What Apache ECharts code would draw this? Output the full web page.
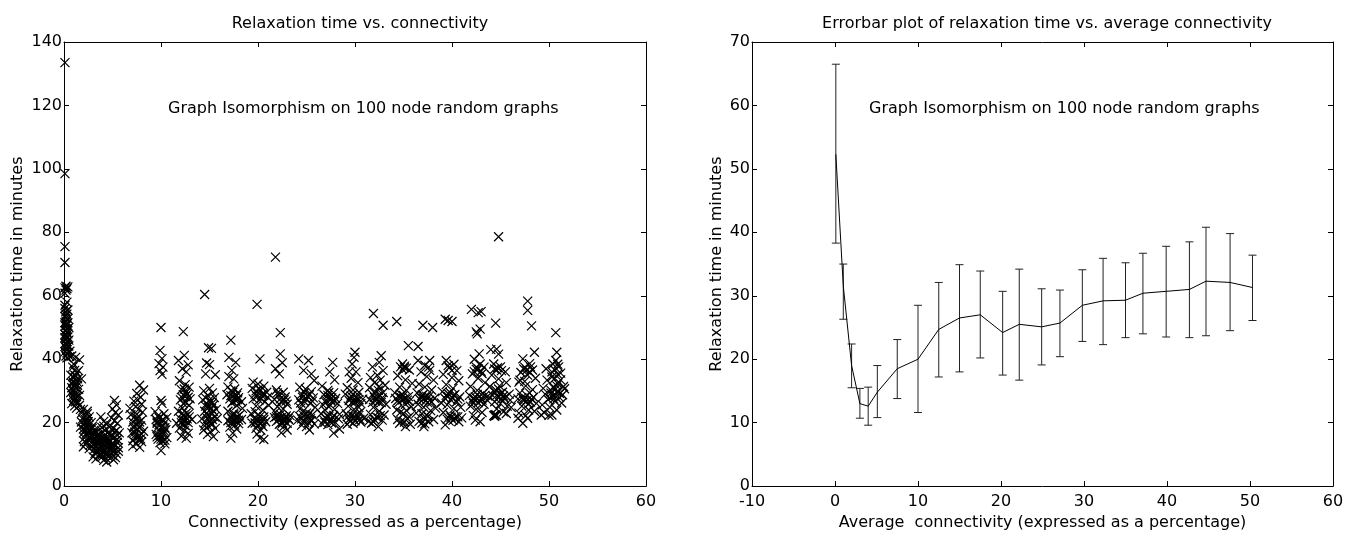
<!DOCTYPE html>
<html>
<head>
<meta charset="utf-8">
<script src="https://cdn.jsdelivr.net/npm/echarts@6/dist/echarts.min.js"></script>
<style>
html,body{margin:0;padding:0;background:#fff;}
#chart{width:1348px;height:536px;}
</style>
</head>
<body>
<div id="chart"></div>
<script>
// ---------- Left panel: scatter (connectivity %, relaxation minutes) ----------
const c0 = [[0.1,133.5],[0.1,98.5],[0.1,75.5],[0.1,70.5],[0.1,62.5],[0.2,61.8],[0.3,62.2],[0.1,60.8],[0.4,62.8],[0.2,63],
[0.1,56],[0.2,55],[0.3,54.2],[0.1,53.5],[0.4,52.8],[0.2,52],[0.3,51.2],[0.1,50.5],[0.5,50],[0.2,49.2],[0.3,48.5],[0.1,47.8],[0.4,47],[0.2,46.3],[0.3,45.5],[0.1,45],[0.5,44.2],[0.2,43.6],[0.3,43],[0.1,42.3],[0.4,41.7],[0.2,41],[0.3,40.4],[0.6,42.5],[0.5,46],[0.6,40.8],[0.1,51.5],[0.3,49.5],[0.2,44.5],[0.4,55.5],[0.1,57],[0.3,58],
[0.2,53],[0.3,50.8],[0.1,49],[0.4,48],[0.2,47.5],[0.1,46.8],[0.3,46.8],[0.2,45],[0.4,44],[0.1,44],[0.3,42],[0.2,54],[0.4,51.5],[0.2,50.5]];
const c1 = [[0.8,41],[1.2,40.6],[1.6,39.8],[0.9,37.5],[1.1,36.5],[1.3,35.8],[0.7,35],[1.0,34.2],[1.4,33.8],[1.8,33.8],[0.9,33],[1.2,32.2],[1.1,31.5],[0.8,31],[1.5,30.5],[1.0,29.8],[1.3,29],[0.9,28.5],[1.6,28.6],[1.2,27.8],[1.0,27],[1.4,26.5],[0.8,26],[1.1,25.3],[1.3,24.6],[1.7,24.2],[1.0,38.5],[1.4,31.8],[0.7,29.5],[1.2,34.8],
[1.1,35],[0.9,34.5],[1.3,33],[1.0,32.6],[1.2,31],[0.9,30.2],[1.1,29.3],[1.3,28.2],[1.0,28],[1.2,26.6],[0.8,32.4],[1.5,36.4]];
const c2 = [[1.6,25.5],[2.0,24.2],[2.4,23.6],[1.8,23],[2.2,22.3],[2.6,21.8],[1.9,21.2],[2.3,20.6],[2.8,20],[2.1,19.5],[2.5,19],[1.7,18.6],[2.9,18.2],[2.2,17.7],[2.6,17.2],[2.0,16.8],[2.4,16.2],[2.8,15.7],[2.1,15.2],[2.5,14.7],[2.9,14.2],[2.3,13.6],[2.7,13],[2.0,12.4],[2.6,11.8],[3.0,16.5],[2.4,22.8],[1.8,20.2],
[2.2,21],[2.5,20.3],[2.0,18],[2.4,18.2],[2.7,17.9],[2.3,16.6],[2.1,14],[2.6,15.5],[2.4,19.7],[2.8,14.9]];
const c3 = [[2.9,18.8],[3.1,17.6],[3.3,16.9],[3.5,16.2],[3.0,15.6],[3.2,15],[3.4,14.3],[3.6,13.8],[3.0,13.2],[3.3,12.6],[3.5,12],[3.1,11.5],[3.4,10.9],[3.2,10.3],[3.6,9.8],[3.0,9.2],[3.3,8.6],[3.5,14.9],[3.1,12.9],[3.4,11.1],[3.2,17.4],[3.6,11.8]];
const c4 = [[3.8,21.8],[4.1,20.4],[4.4,19.5],[3.9,18.5],[4.2,17.6],[4.5,16.8],[3.7,16],[4.0,15.4],[4.3,14.8],[4.6,14.2],[3.8,13.6],[4.1,13],[4.4,12.4],[3.9,11.8],[4.2,11.2],[4.5,10.6],[3.7,10],[4.0,9.4],[4.3,8.8],[4.1,8.1],[4.4,7.6],[3.9,9.8],[4.6,11.4],[4.2,15.9],[3.8,12.7],[4.0,17.1],[4.3,10.2],[4.5,13.3],[4.1,18.9],[3.7,14.6],
[3.5,13.4],[3.8,15],[4.2,14],[4.5,12],[3.6,11.4],[4.0,10.8],[4.4,9.8],[4.7,16.5],[5.0,12],[5.3,14.3],[3.4,16],[4.6,9.2],[5.5,16],[3.3,13.9],[3.9,16.7],[4.8,13]];
const c5 = [[5.2,27],[5.4,25.6],[5.0,24.3],[5.3,23.2],[5.6,22.4],[4.9,21.5],[5.2,20.6],[5.5,19.8],[4.8,19],[5.1,18.2],[5.4,17.5],[5.7,16.8],[4.9,16.1],[5.2,15.4],[5.5,14.7],[4.7,14],[5.0,13.4],[5.3,12.8],[5.6,12.1],[4.8,11.5],[5.1,10.9],[5.4,10.2],[5.0,9.6],[5.3,9],[5.1,8.3],[5.5,13.8],[4.9,12.4],[5.2,17],[5.6,11],[5.0,15.8]];
const c7 = [[7.8,31.8],[8.2,30.3],[7.5,29.2],[7.9,28],[7.2,26.8],[8.0,25.8],[7.4,25],[7.7,24.2],[8.1,23.3],[6.9,22.5],[7.3,22],[7.6,21.4],[8.0,20.8],[7.1,20.2],[7.5,19.6],[7.9,19],[7.2,18.4],[7.6,17.9],[8.2,17.3],[7.0,16.8],[7.4,16.3],[7.8,15.8],[7.3,15.2],[7.7,14.6],[8.0,14],[7.5,13.4],[7.1,12.6],[7.8,12.2],[6.8,24.5],[7.6,27.2],
[7.4,21],[7.8,20.2],[7.2,19],[7.7,18.6],[8.0,16.4],[7.3,17],[7.6,15.5],[7.9,14.9],[7.1,14.3],[7.5,22.7]];
const c10 = [[10.0,50],[9.9,42.8],[10.1,40.2],[9.8,38.6],[10.2,37.5],[9.9,36.4],[10.1,35.2],[10.0,27],[10.1,26.1],[9.4,23.5],[10.3,22.8],[9.7,22.2],[10.6,21.6],[9.5,21],[10.0,20.5],[10.4,20],[9.8,19.4],[10.2,18.9],[9.6,18.3],[10.5,17.8],[9.9,17.3],[10.3,16.8],[9.5,16.3],[10.1,15.8],[10.6,15.3],[9.7,14.8],[10.2,14.3],[9.9,13.7],[10.4,13.3],[10.0,11.2],[9.6,19.8],[10.3,17.5],
[9.8,21.5],[10.2,21],[9.6,20.2],[10.0,18.6],[10.4,18.4],[9.8,16],[10.2,16.4],[9.6,15.5],[10.4,14.5],[10.0,14.8]];
const c12 = [[12.3,48.7],[12.4,41.2],[11.8,39.6],[12.8,38.2],[12.2,37],[12.6,36],[11.9,33.2],[12.5,32],[12.9,31.2],[12.1,30.4],[12.6,29.6],[12.3,28.8],[12.8,28],[12.0,27.2],[12.5,26.4],[12.9,25.5],[12.2,24.6],[11.8,23.6],[12.6,23],[12.3,22.3],[12.9,21.8],[12.0,21.2],[12.5,20.6],[12.8,20],[12.2,19.4],[12.6,18.9],[11.9,18.3],[12.4,17.5],[12.8,16.6],[12.1,15.8],[12.6,15.1],[13.2,21],[11.6,19.8],[13.0,27.5],
[12.4,30.6],[12.7,29],[12.2,27.8],[12.5,28.2],[12.3,26],[12.2,23],[12.5,22],[12.8,22.6],[12.1,20],[12.4,19.2],[12.7,21.2],[12.3,20.8]];
const c15 = [[14.5,60.4],[14.9,43.6],[15.2,43.4],[14.7,38.8],[15.0,38.3],[14.6,35.4],[15.6,35.1],[15.0,30.8],[14.4,30],[15.3,29.4],[14.8,28.6],[15.5,27.9],[14.3,27.2],[15.1,26.6],[14.7,26],[15.4,25.5],[14.9,24.8],[15.7,24.2],[14.5,23.6],[15.2,23],[14.8,22.4],[15.5,21.8],[14.2,21.2],[15.0,20.6],[14.6,20.1],[15.3,19.5],[14.9,18.8],[15.6,18.2],[14.4,17.7],[15.1,17.1],[14.8,16.3],[15.4,15.6],[15.8,21.3],[14.6,25.2],
[15.0,27.2],[14.6,27.8],[15.3,26.2],[14.9,25.5],[15.2,24.4],[14.7,23],[15.0,22],[15.3,21],[14.8,21.3],[15.1,19.7],[14.5,19],[15.4,23.6]];
const c17 = [[17.2,46],[17.0,40.6],[17.7,39],[17.3,36.5],[17.5,33.8],[16.9,31.2],[17.6,30.6],[17.2,30],[17.9,29.4],[16.8,28.8],[17.4,28.3],[18.0,27.9],[17.1,27.5],[17.7,27],[18.3,26.6],[17.3,26.2],[17.8,25.4],[16.9,23.6],[17.5,23],[18.1,22.4],[17.2,21.9],[17.7,21.4],[18.3,21],[16.9,20.6],[17.4,20.2],[18.0,19.7],[17.6,19.2],[17.1,18.6],[17.8,18],[17.4,16.7],[17.2,15.1],[18.4,24.5],[17.0,34.5],
[17.4,29.6],[17.8,28.6],[17.2,28.5],[17.6,27.8],[17.9,27.3],[17.4,26.6],[17.5,22.5],[17.9,21.9],[17.3,21.2],[17.7,20.6],[18.0,20.8],[17.2,20]];
const c20 = [[19.9,57.3],[20.2,40.1],[19.5,32.8],[20.0,32.2],[20.6,31.5],[19.4,30.8],[20.3,30.2],[20.9,29.6],[19.7,29],[20.4,28.5],[21.0,28],[19.5,27.5],[20.1,27.1],[20.7,26.6],[19.8,25.2],[20.5,24],[19.3,22.8],[20.0,22.3],[20.6,21.8],[19.6,21.3],[20.2,20.8],[20.8,20.3],[19.4,19.8],[20.0,19.3],[20.5,18.8],[19.8,18.2],[20.3,17.6],[19.9,16.4],[20.2,15.1],[20.6,14.7],[21.1,25.5],[19.7,23.5],
[20.1,30.6],[20.5,29.2],[19.9,28.2],[20.3,27.6],[20.6,28.6],[19.8,30],[20.2,22],[19.9,21],[20.4,20.4],[19.7,19.9],[20.3,19.7],[20.6,21]];
const c22 = [[21.8,72.2],[22.3,48.4],[22.3,41.7],[22.5,38.9],[21.8,37],[22.2,35.4],[21.9,30.3],[22.6,29.6],[22.1,28.8],[22.8,28.1],[21.7,27.3],[22.4,26.6],[23.0,25.8],[22.0,25],[22.6,24.3],[21.8,23.3],[22.3,22.6],[22.9,22.1],[21.7,21.6],[22.2,21.3],[22.7,21],[23.2,20.8],[21.9,20.4],[22.5,20.1],[23.0,19.8],[22.2,19.5],[22.7,18.9],[23.0,17.7],[22.4,16.8],[23.3,22.2],
[21.9,21.9],[22.1,20.9],[22.4,21.6],[22.6,20.6],[22.8,21.5],[23.1,21.3],[22.0,22.3],[22.5,19.7],[22.3,27.5],[22.7,27.2],[22.0,29.4],[22.9,26.8]];
const c25 = [[24.2,40.1],[25.2,39.6],[24.7,36.5],[25.5,35.4],[25.8,33.3],[24.3,31.2],[24.9,30.6],[25.5,29.8],[24.5,29],[25.1,28.4],[25.7,27.8],[24.2,27.2],[24.8,26.6],[25.4,26],[24.4,24.6],[25.0,23],[25.6,22.5],[24.3,22],[24.9,21.6],[25.4,21.2],[24.1,20.8],[24.7,20.4],[25.2,20],[25.8,19.6],[24.5,19.2],[25.0,18.75],[25.3,17.7],[24.6,23.5],[25.9,24.8],
[24.6,28],[25.0,27.5],[25.3,28.8],[24.8,29.5],[25.6,26.8],[24.4,26.2],[24.7,22.3],[25.1,21.9],[25.5,20.6],[24.8,20.1],[25.3,22.8],[24.5,21.2]];
const c27 = [[27.7,39],[27.4,36],[27.9,33.5],[26.6,31.5],[27.2,30.2],[27.8,29.4],[26.8,28.8],[27.4,28.2],[28.0,27.6],[27.0,27.1],[27.6,26.6],[28.2,26.1],[26.7,25.6],[27.3,25],[27.9,24.2],[26.5,22.8],[27.1,22.2],[27.7,21.7],[28.3,21.2],[26.8,20.8],[27.4,20.4],[28.0,20],[26.6,19.7],[27.2,19.4],[28.4,22.6],[27.8,16.7],[28.4,18],[26.9,24],
[27.2,28.6],[27.6,27.8],[27.0,26.4],[27.5,27.3],[27.9,26.8],[27.3,29.5],[27.0,21.4],[27.5,20.9],[27.8,22.3],[27.3,21.9],[26.9,20.1],[27.6,19.9]];
const c30 = [[30.0,42.2],[29.9,40.6],[29.7,38.5],[29.4,36],[30.1,36],[29.6,34],[30.3,32.6],[29.2,31],[29.8,30.3],[30.4,29.6],[29.0,29],[29.6,28.4],[30.2,27.9],[30.8,27.4],[29.4,27],[30.0,26.5],[30.6,26],[29.3,25.2],[29.9,24.2],[30.5,23.2],[29.1,22.8],[29.7,22.3],[30.3,21.8],[30.9,21.4],[29.4,21],[30.0,20.6],[30.6,20.2],[29.8,19.8],[29.2,19.5],[30.4,24.8],
[29.8,28.9],[30.1,28.1],[29.5,27.7],[30.4,27.2],[29.7,26.4],[30.1,26.9],[29.8,21.5],[30.2,22.6],[29.5,20.4],[30.0,21.9],[30.5,21],[29.3,22]];
const c32 = [[31.9,54.4],[32.9,50.7],[32.7,41.1],[32.5,39],[31.8,37.6],[32.9,36.4],[32.3,35],[31.6,34.2],[32.6,33.4],[32.0,32.6],[33.1,31.8],[31.5,31],[32.4,30.2],[32.9,29.5],[31.8,28.9],[32.3,28.3],[32.8,27.8],[31.5,27.3],[32.1,26.8],[32.7,26.3],[33.2,25.8],[31.9,24.8],[32.5,23.6],[31.6,22.6],[32.2,21.8],[32.8,20.8],[31.7,19.8],[32.4,18.75],[31.4,20.4],[33.0,22.4],
[32.2,27.5],[32.6,28.6],[32.0,28],[32.4,26.6],[32.8,27.2],[31.8,26.4],[32.1,29.7],[32.5,31.4],[32.0,21],[32.6,22.2],[31.9,20.3],[32.4,21.5]];
const c35 = [[34.3,51.9],[35.5,44.3],[36.5,44],[34.9,38.5],[35.1,37.8],[35.3,37.2],[34.7,37.6],[35.6,36.6],[34.4,34.8],[35.2,33.5],[35.9,32.4],[34.6,31.2],[35.3,30.2],[34.1,29.4],[34.8,28.8],[35.5,28.2],[34.2,27.6],[34.9,27.2],[35.6,26.8],[34.5,26.3],[35.2,25.8],[35.8,25],[34.3,24],[35.0,22.9],[35.6,21.8],[34.4,21],[35.1,20.2],[35.7,19.5],[35.2,18.75],[34.7,23.3],
[34.8,27.9],[35.1,27.5],[35.4,27.1],[34.6,28.3],[35.0,28.6],[34.4,26.9],[35.1,37.3],[34.9,36.8],[35.4,21.3],[34.8,20.5],[35.3,23.8],[34.6,19.8]];
const c37 = [[37.0,50.7],[38.0,50],[36.5,39.6],[37.7,39.6],[37.6,37.5],[36.8,36],[37.4,34.5],[38.1,33.4],[36.6,32.2],[37.2,31.2],[37.9,30.3],[36.4,29.4],[37.0,28.8],[37.6,28.2],[38.2,27.7],[36.7,27.3],[37.3,26.9],[37.9,26.5],[36.5,25.8],[37.1,24.8],[37.8,23.8],[36.9,22.8],[37.5,21.9],[38.1,21],[36.6,20.4],[37.2,19.6],[37.1,18.75],[38.3,24.6],[36.3,23],
[37.1,27.6],[37.4,28.3],[36.8,27.9],[37.7,27.1],[36.9,28.6],[37.5,26.3],[37.2,38.1],[37.7,36.5],[37.1,21.4],[37.6,20.3],[36.9,19.9],[37.4,22.4]];
const c40 = [[39.3,52.6],[39.6,52.2],[40.0,51.9],[39.4,39.6],[40.2,38.4],[39.7,37.3],[40.5,36.4],[39.1,35.2],[40.0,34.2],[40.7,33.2],[39.4,32],[40.1,30.8],[39.0,29.8],[39.6,29.2],[40.2,28.6],[40.8,28.1],[39.3,27.6],[39.9,27.1],[40.5,26.6],[39.5,25.6],[40.2,24.4],[39.1,23.2],[39.8,22.4],[40.4,21.9],[41.0,21.5],[39.5,21.1],[40.1,20.7],[40.7,20.3],[39.3,19.3],[40.9,24.8],[38.9,26.2],
[39.6,28.3],[40.0,27.8],[40.3,28.9],[39.8,29.5],[39.4,28.6],[40.6,27.4],[39.9,21.7],[40.3,21.2],[39.7,20.5],[40.6,21.8],[40.0,36.5],[39.6,38]];
const c42 = [[42.0,55.7],[43.0,55],[42.7,54.7],[42.5,48.6],[42.9,49.5],[42.6,48],[42.8,41.7],[42.3,40],[42.9,38.5],[43.3,37.5],[42.5,36.8],[43.0,36.2],[42.1,35.4],[42.7,34],[43.4,32.6],[41.9,31.4],[42.6,30.2],[43.2,29.2],[41.8,28.6],[42.4,28.1],[43.0,27.6],[43.6,27.2],[42.1,26.8],[42.7,26.3],[43.3,25.8],[41.9,25.2],[42.5,24.2],[43.1,23.2],[42.2,22.2],[42.4,20.8],[42.9,20.3],[43.7,28.4],
[42.4,27.2],[42.8,28.3],[43.1,27.1],[42.2,27.7],[42.9,26.8],[43.4,28.6],[42.6,28.9],[42.3,36.1],[42.7,36.9],[43.1,35.5],[42.5,37.5],[42.2,26.1]];
const c45 = [[44.8,78.6],[44.5,51.4],[44.6,43.2],[44.0,43],[44.8,41.6],[44.3,38.5],[45.0,37.6],[44.6,36.6],[45.5,36],[44.1,35],[44.8,33.8],[45.6,32.6],[43.9,31.4],[44.5,30.3],[45.2,29.6],[45.9,29],[44.2,28.5],[44.8,28],[45.4,27.6],[46.0,27.1],[44.4,26.6],[45.0,26],[45.7,25.2],[44.6,24.3],[45.3,23.4],[44.4,22.4],[44.3,22.2],[44.5,22.5],[45.6,22.9],[44.9,31.6],[46.1,24.8],
[44.6,28.6],[45.0,29.2],[45.3,28.4],[44.4,29.6],[44.8,30.6],[45.6,28.3],[45.1,27.4],[44.7,37.3],[45.1,36.4],[44.4,36.9],[44.4,22.0],[44.6,22.3]];
const c47 = [[47.8,58.3],[47.8,55.4],[48.2,50.5],[48.5,42.2],[47.3,40.1],[48.0,38.6],[47.5,37.5],[48.3,36.6],[47.1,35.8],[47.8,35],[48.6,34],[46.9,32.8],[47.6,31.6],[48.3,30.4],[47.0,29.4],[47.7,28.6],[48.4,28],[46.8,27.5],[47.4,27],[48.1,26.5],[48.7,26.1],[47.2,25.2],[47.9,24],[46.9,23],[47.6,22.2],[46.8,21.4],[47.8,21.4],[47.3,19.8],[48.5,23.6],[47.0,33.4],
[47.4,27.6],[47.8,27.2],[48.2,27.4],[47.6,26.6],[47.9,25.9],[47.2,27.9],[47.7,36.6],[48.0,36],[47.4,36.9],[48.1,37.6],[47.5,33],[48.0,29.4]];
const c50 = [[50.7,48.4],[50.8,42.2],[50.7,39.6],[50.4,38.5],[51.0,37.6],[50.6,36.6],[51.2,35.6],[50.3,34.4],[49.8,33.4],[50.9,32.3],[51.5,31.4],[49.4,30.8],[50.2,30.2],[51.6,30.7],[50.8,29.6],[49.6,29],[50.4,28.4],[51.1,27.9],[49.9,27.3],[50.6,26.8],[51.3,26.2],[49.3,25.6],[50.1,24.8],[50.8,24],[49.5,23.2],[50.3,22.4],[49.2,22.4],[50.0,22.3],[51.4,28.8],[50.9,35.3],[49.7,37],
[50.2,29.3],[50.6,28.6],[50.9,29.9],[50.4,31.2],[50.7,30.6],[50.1,27.8],[50.5,27.5],[50.8,31.6],[51.1,29.2],[50.3,36],[50.6,34],[50.9,38.4],[51.2,33.5]];

// ---------- Right panel: error bars (mean, low, high) ----------
const ebX    = [0.1, 1.0, 2.0, 3.0, 4.0, 5.1, 7.5, 10.0, 12.5, 15.0, 17.5, 20.2, 22.2, 24.9, 27.1, 29.8, 32.3, 35.0, 37.1, 39.9, 42.7, 44.7, 47.6, 50.3];
const ebMean = [52.3, 31.5, 19.0, 13.0, 12.6, 14.8, 18.5, 20.0, 24.7, 26.5, 27.0, 24.2, 25.5, 25.1, 25.7, 28.5, 29.2, 29.3, 30.4, 30.7, 31.0, 32.3, 32.1, 31.3];
const ebLow  = [38.3, 26.3, 15.5, 10.7, 9.6, 10.8, 13.8, 11.6, 17.2, 18.0, 20.2, 17.5, 16.7, 19.1, 20.4, 22.8, 22.3, 23.4, 24.0, 23.5, 23.4, 23.7, 24.5, 26.1];
const ebHigh = [66.5, 35.0, 22.4, 15.4, 15.6, 19.0, 23.1, 28.5, 32.1, 34.9, 33.9, 30.7, 34.2, 31.1, 30.9, 34.1, 35.9, 35.2, 36.7, 37.8, 38.5, 40.8, 39.8, 36.4];

// ---------- Text ----------
const titleLeft = 'Relaxation time vs. connectivity';
const titleRight = 'Errorbar plot of relaxation time vs. average connectivity';
const noteText = 'Graph Isomorphism on 100 node random graphs';
const yName = 'Relaxation time in minutes';
const xNameLeft = 'Connectivity (expressed as a percentage)';
const xNameRight = 'Average  connectivity (expressed as a percentage)';

const scatterData = [].concat(c0,c1,c2,c3,c4,c5,c7,c10,c12,c15,c17,c20,c22,c25,c27,c30,c32,c35,c37,c40,c42,c45,c47,c50);
const meanData = ebX.map((x,i)=>[x, ebMean[i]]);
const barData = ebX.map((x,i)=>[x, ebLow[i], ebHigh[i]]);

const FONT = '"DejaVu Sans", "Liberation Sans", Arial, sans-serif';

function mkX(grid, min, max, pos, show, name, gap){
  return {
    type:'value', gridIndex:grid, min:min, max:max, interval:10, position:pos,
    axisLine:{show:true, onZero:false, lineStyle:{color:'#000', width:1}},
    axisTick:{show:true, inside:true, length:5, lineStyle:{color:'#000'}},
    axisLabel:{show:show, margin:8, color:'#000', fontFamily:FONT, fontSize:16, showMinLabel:true, showMaxLabel:true},
    splitLine:{show:false},
    name: name || '', nameLocation:'middle', nameGap: gap || 0,
    nameTextStyle: {color:'#000', fontFamily:FONT, fontSize:16}
  };
}
function mkY(grid, max, interval, pos, show, name, gap){
  return {
    type:'value', gridIndex:grid, min:0, max:max, interval:interval, position:pos,
    axisLine:{show:true, onZero:false, lineStyle:{color:'#000', width:1}},
    axisTick:{show:true, inside:true, length:5, lineStyle:{color:'#000'}},
    axisLabel:{show:show, margin:2, color:'#000', fontFamily:FONT, fontSize:16, showMinLabel:true, showMaxLabel:true},
    splitLine:{show:false},
    name: name || '', nameLocation:'middle', nameGap: gap || 0,
    nameTextStyle: {color:'#000', fontFamily:FONT, fontSize:16}
  };
}

const chart = echarts.init(document.getElementById('chart'), null, {renderer:'canvas'});
chart.setOption({
  animation:false,
  backgroundColor:'#fff',
  title:[
    {text:titleLeft, left:355, top:11, textAlign:'center', textStyle:{color:'#000', fontFamily:FONT, fontSize:16, fontWeight:'normal'}},
    {text:titleRight, left:1042, top:11, textAlign:'center', textStyle:{color:'#000', fontFamily:FONT, fontSize:16, fontWeight:'normal'}}
  ],
  grid:[
    {left:64, top:42, width:582, height:448},
    {left:752, top:42, width:581, height:448}
  ],
  xAxis:[
    mkX(0, 0, 60, 'bottom', true, xNameLeft, 27),
    mkX(0, 0, 60, 'top', false),
    mkX(1, -10, 60, 'bottom', true, xNameRight, 27),
    mkX(1, -10, 60, 'top', false)
  ],
  yAxis:[
    mkY(0, 140, 20, 'left', true, yName, 38),
    mkY(0, 140, 20, 'right', false),
    mkY(1, 70, 10, 'left', true, yName, 27),
    mkY(1, 70, 10, 'right', false)
  ],
  graphic:[
    {type:'text', left:168, top:101, style:{text:noteText, fill:'#000', font:'16px ' + FONT}},
    {type:'text', left:869, top:101, style:{text:noteText, fill:'#000', font:'16px ' + FONT}}
  ],
  series:[
    {
      type:'scatter', xAxisIndex:0, yAxisIndex:0, data:scatterData,
      symbol:'path://M0,0L10,10M10,0L0,10', symbolSize:9,
      itemStyle:{color:'rgba(0,0,0,0)', borderColor:'#000', borderWidth:1.2, opacity:1},
      emphasis:{disabled:true}, silent:true
    },
    {
      type:'custom', xAxisIndex:2, yAxisIndex:2, data:barData, silent:true,
      renderItem:function(params, api){
        const x = api.value(0);
        const lo = api.coord([x, api.value(1)]);
        const hi = api.coord([x, api.value(2)]);
        const hw = 4;
        const st = {stroke:'#222', lineWidth:1};
        return {type:'group', children:[
          {type:'line', shape:{x1:lo[0], y1:lo[1], x2:hi[0], y2:hi[1]}, style:st},
          {type:'line', shape:{x1:lo[0]-hw, y1:lo[1], x2:lo[0]+hw, y2:lo[1]}, style:st},
          {type:'line', shape:{x1:hi[0]-hw, y1:hi[1], x2:hi[0]+hw, y2:hi[1]}, style:st}
        ]};
      }
    },
    {
      type:'line', xAxisIndex:2, yAxisIndex:2, data:meanData, showSymbol:false, symbol:'none',
      lineStyle:{color:'#000', width:1}, silent:true
    }
  ]
});
</script>
</body>
</html>
